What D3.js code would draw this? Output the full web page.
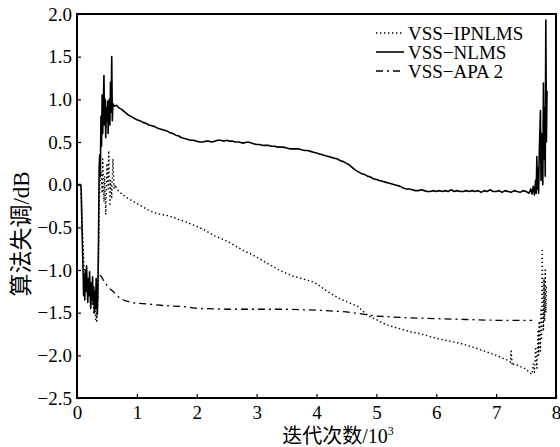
<!doctype html>
<html lang="zh">
<head>
    <meta charset="UTF-8">
    <title>算法失调</title>
    <script src="https://d3js.org/d3.v7.min.js"></script>
    <style>
      body { margin: 0; background: #fff; }
      svg text { font-family: 'Liberation Serif', 'Noto Sans CJK SC', serif; fill: #000; }
    </style>
</head>
<body>
    <div id="chart"></div>

    <script>

      // Series names (legend order)
      const seriesNames = ['VSS\u2212IPNLMS', 'VSS\u2212NLMS', 'VSS\u2212APA 2'];

      // Axis ticks
      const xTicks = [0, 1, 2, 3, 4, 5, 6, 7, 8];
      const yTicks = [-2.5, -2.0, -1.5, -1.0, -0.5, 0.0, 0.5, 1.0, 1.5, 2.0];

      // VSS-NLMS  [iterations / 10^3, misadjustment dB]
      const nlms = [
        [0, 0.0], [0.06, 0.0], [0.07, -0.05], [0.08, -0.4], [0.09, -0.7], [0.1, -0.95],
        [0.11, -1.3], [0.12, -1.05], [0.13, -1.35], [0.14, -1.0], [0.15, -1.25], [0.16, -0.95],
        [0.17, -1.2], [0.18, -1.38], [0.19, -1.1], [0.2, -1.3], [0.21, -1.02], [0.22, -1.28],
        [0.23, -1.45], [0.24, -1.15], [0.25, -1.35], [0.26, -1.08], [0.27, -1.4], [0.28, -1.2],
        [0.29, -1.5], [0.3, -1.25], [0.31, -1.45], [0.32, -1.1], [0.33, -1.38], [0.34, -1.52],
        [0.35, -1.2], [0.36, -0.6], [0.37, 0.2], [0.38, 0.35], [0.39, 0.1], [0.4, 0.8],
        [0.41, 0.45], [0.42, 1.05], [0.43, 0.6], [0.44, 0.95], [0.45, 1.28], [0.46, 0.7],
        [0.47, 1.0], [0.48, 0.55], [0.49, 0.9], [0.5, 0.75], [0.51, 0.98], [0.52, 0.6],
        [0.53, 0.9], [0.54, 1.0], [0.55, 0.7], [0.56, 1.2], [0.57, 0.85], [0.58, 1.5],
        [0.59, 0.75], [0.6, 0.95], [0.62, 0.92], [0.66, 0.93], [0.7, 0.9], [0.75, 0.88],
        [0.8, 0.85], [0.85, 0.82], [0.9, 0.8], [0.95, 0.78], [1.0, 0.76], [1.05, 0.75],
        [1.1, 0.73], [1.15, 0.72], [1.2, 0.70], [1.25, 0.69], [1.3, 0.68], [1.35, 0.66],
        [1.4, 0.65], [1.45, 0.64], [1.5, 0.63], [1.55, 0.61], [1.6, 0.60], [1.65, 0.58],
        [1.7, 0.57], [1.75, 0.55], [1.8, 0.54], [1.85, 0.53], [1.9, 0.52], [1.95, 0.52],
        [2.0, 0.51], [2.05, 0.50], [2.1, 0.50], [2.15, 0.51], [2.2, 0.51], [2.25, 0.50],
        [2.3, 0.51], [2.35, 0.52], [2.4, 0.52], [2.45, 0.51], [2.5, 0.52], [2.55, 0.51],
        [2.6, 0.51], [2.65, 0.50], [2.7, 0.50], [2.75, 0.49], [2.8, 0.49], [2.85, 0.50],
        [2.9, 0.49], [2.95, 0.48], [3.0, 0.47], [3.05, 0.47], [3.1, 0.46], [3.15, 0.46],
        [3.2, 0.46], [3.25, 0.45], [3.3, 0.45], [3.35, 0.44], [3.4, 0.44], [3.45, 0.44],
        [3.5, 0.43], [3.55, 0.42], [3.6, 0.42], [3.65, 0.42], [3.7, 0.42], [3.75, 0.41],
        [3.8, 0.40], [3.85, 0.40], [3.9, 0.39], [3.95, 0.38], [4.0, 0.37], [4.05, 0.36],
        [4.1, 0.35], [4.15, 0.34], [4.2, 0.33], [4.25, 0.32], [4.3, 0.31], [4.35, 0.30],
        [4.4, 0.28], [4.45, 0.27], [4.5, 0.25], [4.55, 0.23], [4.6, 0.20], [4.65, 0.17],
        [4.7, 0.15], [4.75, 0.13], [4.8, 0.12], [4.85, 0.10], [4.9, 0.09], [4.95, 0.07],
        [5.0, 0.06], [5.05, 0.05], [5.1, 0.04], [5.15, 0.03], [5.2, 0.02], [5.25, 0.01],
        [5.3, 0.0], [5.35, -0.01], [5.4, -0.02], [5.45, -0.04], [5.5, -0.05], [5.55, -0.05],
        [5.6, -0.06], [5.65, -0.07], [5.7, -0.07], [5.75, -0.06], [5.8, -0.07], [5.85, -0.08],
        [5.9, -0.08], [5.95, -0.07], [6.0, -0.08], [6.05, -0.07], [6.1, -0.08], [6.15, -0.07],
        [6.2, -0.08], [6.25, -0.06], [6.3, -0.08], [6.35, -0.07], [6.4, -0.08], [6.45, -0.08],
        [6.5, -0.07], [6.55, -0.08], [6.6, -0.07], [6.65, -0.08], [6.7, -0.07], [6.75, -0.09],
        [6.8, -0.07], [6.85, -0.08], [6.9, -0.06], [6.95, -0.08], [7.0, -0.08], [7.05, -0.07],
        [7.1, -0.09], [7.15, -0.07], [7.2, -0.08], [7.25, -0.09], [7.3, -0.07], [7.35, -0.08],
        [7.4, -0.09], [7.45, -0.07], [7.5, -0.08], [7.55, -0.1], [7.58, -0.05], [7.6, -0.11],
        [7.62, -0.02], [7.64, -0.12], [7.66, 0.05], [7.67, -0.1], [7.68, 0.33], [7.69, -0.05],
        [7.7, 0.2], [7.71, -0.1], [7.72, 0.35], [7.74, 0.87], [7.75, 0.05], [7.76, 0.6],
        [7.78, 0.0], [7.79, 1.19], [7.8, 0.3], [7.81, 0.9], [7.82, 0.1], [7.83, 1.93],
        [7.84, 0.5], [7.85, 1.1]
      ];

      // VSS-IPNLMS
      const ipnlms = [
        [0.0, 0.0], [0.06, 0.0], [0.08, -0.3], [0.1, -0.7], [0.12, -1.0], [0.15, -1.1],
        [0.18, -1.2], [0.2, -1.25], [0.22, -1.3], [0.25, -1.4], [0.27, -1.35], [0.28, -1.5],
        [0.3, -1.45], [0.31, -1.58], [0.32, -1.5], [0.33, -1.6], [0.34, -1.45], [0.35, -1.3],
        [0.36, -0.8], [0.37, -0.3], [0.38, 0.0], [0.4, 0.15], [0.42, -0.1], [0.43, 0.3],
        [0.45, -0.2], [0.46, 0.1], [0.48, -0.35], [0.5, 0.25], [0.52, -0.05], [0.53, 0.4],
        [0.55, -0.25], [0.56, 0.05], [0.58, -0.15], [0.6, 0.3], [0.62, -0.05], [0.64, 0.0],
        [0.66, -0.05], [0.7, -0.08], [0.8, -0.14], [0.9, -0.18], [1.0, -0.22], [1.1, -0.26],
        [1.2, -0.30], [1.3, -0.33], [1.4, -0.35], [1.5, -0.36], [1.6, -0.38], [1.7, -0.41],
        [1.8, -0.43], [1.9, -0.46], [2.0, -0.49], [2.1, -0.52], [2.2, -0.56], [2.3, -0.60],
        [2.4, -0.63], [2.5, -0.66], [2.6, -0.70], [2.7, -0.74], [2.8, -0.78], [2.9, -0.81],
        [3.0, -0.85], [3.1, -0.89], [3.2, -0.93], [3.3, -0.97], [3.4, -1.01], [3.5, -1.04],
        [3.6, -1.07], [3.7, -1.09], [3.8, -1.11], [3.9, -1.13], [4.0, -1.16], [4.1, -1.21],
        [4.2, -1.26], [4.3, -1.30], [4.4, -1.34], [4.5, -1.37], [4.6, -1.40], [4.7, -1.43],
        [4.8, -1.50], [4.9, -1.55], [5.0, -1.58], [5.1, -1.62], [5.2, -1.65], [5.3, -1.67],
        [5.4, -1.69], [5.5, -1.71], [5.6, -1.73], [5.7, -1.74], [5.8, -1.76], [5.9, -1.78],
        [6.0, -1.80], [6.2, -1.83], [6.4, -1.86], [6.6, -1.90], [6.8, -1.95], [7.0, -2.0],
        [7.1, -2.03], [7.2, -2.06], [7.24, -2.08], [7.25, -1.95], [7.27, -2.12], [7.3, -2.1],
        [7.4, -2.13], [7.5, -2.16], [7.55, -2.2], [7.6, -2.22], [7.62, -2.1], [7.64, -2.2],
        [7.66, -1.9], [7.68, -2.15], [7.7, -1.7], [7.71, -2.0], [7.72, -1.6], [7.74, -1.95],
        [7.75, -1.45], [7.76, -1.8], [7.77, -0.77], [7.78, -1.3], [7.79, -1.7], [7.8, -1.1],
        [7.81, -1.6], [7.82, -1.0], [7.83, -1.5], [7.84, -1.2]
      ];

      // VSS-APA 2
      const apa = [
        [0.38, -1.06], [0.41, -1.08], [0.45, -1.13], [0.5, -1.18], [0.55, -1.22], [0.6, -1.25],
        [0.7, -1.32], [0.8, -1.36], [0.9, -1.38], [1.0, -1.39], [1.2, -1.40], [1.5, -1.42],
        [1.8, -1.43], [2.0, -1.45], [2.5, -1.46], [3.0, -1.46], [3.5, -1.46], [4.0, -1.47],
        [4.5, -1.49], [4.8, -1.52], [5.0, -1.54], [5.5, -1.56], [6.0, -1.57], [6.5, -1.58],
        [7.0, -1.59], [7.6, -1.59]
      ];

      // Chart dimensions
      const W = 560, H = 447;
      const plot = { left: 77, right: 556, top: 14, bottom: 398 };

      const x = d3.scaleLinear().domain([0, 8]).range([plot.left, plot.right]);
      const y = d3.scaleLinear().domain([-2.5, 2]).range([plot.bottom, plot.top]);

      const svg = d3.select('#chart')
          .append('svg')
          .attr('width', W)
          .attr('height', H);

      svg.append('clipPath')
          .attr('id', 'clip')
          .append('rect')
          .attr('x', plot.left)
          .attr('y', plot.top)
          .attr('width', plot.right - plot.left)
          .attr('height', plot.bottom - plot.top);

      const line = d3.line()
          .x(d => x(d[0]))
          .y(d => y(d[1]));

      const styles = [
        { data: ipnlms, width: 1.4, dash: '1.4,2.6' },
        { data: nlms, width: 1.6, dash: null },
        { data: apa, width: 1.3, dash: '7,4,2,4' }
      ];

      const lines = svg.append('g').attr('clip-path', 'url(#clip)');
      styles.forEach(s => {
        lines.append('path')
            .datum(s.data)
            .attr('fill', 'none')
            .attr('stroke', '#000')
            .attr('stroke-width', s.width)
            .attr('stroke-dasharray', s.dash)
            .attr('stroke-linejoin', 'round')
            .attr('d', line);
      });

      // Axes (ticks inside)
      svg.append('g')
          .attr('transform', `translate(0,${plot.bottom})`)
          .call(d3.axisBottom(x).tickValues(xTicks).tickFormat(d3.format('d'))
              .tickSizeInner(-4).tickSizeOuter(0).tickPadding(8))
          .call(g => g.select('.domain').remove())
          .call(g => g.selectAll('line').attr('stroke', '#000').attr('stroke-width', 1.2))
          .call(g => g.selectAll('text').attr('font-size', 19));

      svg.append('g')
          .attr('transform', `translate(${plot.left},0)`)
          .call(d3.axisLeft(y).tickValues(yTicks).tickFormat(d3.format('.1f'))
              .tickSizeInner(-4).tickSizeOuter(0).tickPadding(5))
          .call(g => g.select('.domain').remove())
          .call(g => g.selectAll('line').attr('stroke', '#000').attr('stroke-width', 1.2))
          .call(g => g.selectAll('text').attr('font-size', 19));

      // Frame
      svg.append('rect')
          .attr('x', plot.left)
          .attr('y', plot.top)
          .attr('width', plot.right - plot.left)
          .attr('height', plot.bottom - plot.top)
          .attr('fill', 'none')
          .attr('stroke', '#000')
          .attr('stroke-width', 2);

      // Legend
      const legend = svg.append('g').attr('transform', 'translate(376,33)');
      styles.forEach((s, i) => {
        const row = legend.append('g').attr('transform', `translate(0,${i * 19})`);
        row.append('line')
            .attr('x1', 0).attr('x2', 28)
            .attr('stroke', '#000')
            .attr('stroke-width', s.width)
            .attr('stroke-dasharray', s.dash);
        row.append('text')
            .attr('x', 32)
            .attr('y', 6.5)
            .attr('font-size', 19)
            .text(seriesNames[i]);
      });

      // Axis titles
      const xTitle = svg.append('text')
          .attr('x', 338)
          .attr('y', 443)
          .attr('text-anchor', 'middle')
          .attr('font-size', 20);
      xTitle.append('tspan').text('迭代次数/10');
      xTitle.append('tspan').attr('font-size', 12).attr('dy', -8).text('3');

      svg.append('text')
          .attr('transform', 'translate(29,234) rotate(-90)')
          .attr('text-anchor', 'middle')
          .attr('font-size', 23)
          .text('算法失调/dB');

    </script>

</body>
</html>
